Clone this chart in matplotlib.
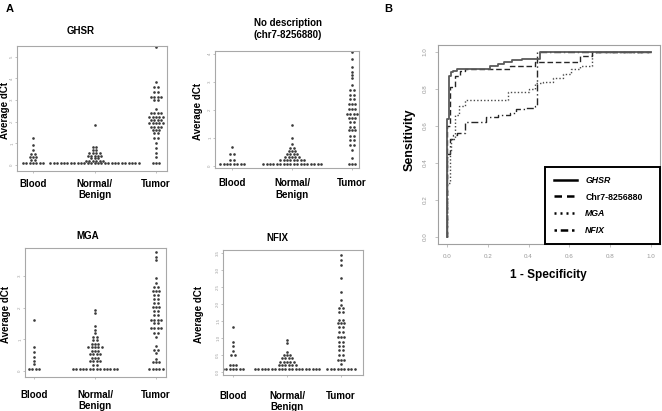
import numpy as np
import matplotlib
matplotlib.use('Agg')
import matplotlib.pyplot as plt
from matplotlib.lines import Line2D

W, H = 662, 411

plt.rcParams['font.family'] = ['Liberation Sans', 'DejaVu Sans']

GROUPS = ['Blood', 'Normal/\nBenign', 'Tumor']

# ---- panel A: average dCt, as (value, number of samples at that value) ----
ghsr_blood_vals = [0.1, 0.22, 0.35, 0.5, 0.7, 0.92, 1.23]
ghsr_blood_counts = [7, 2, 3, 2, 1, 1, 1]
ghsr_normal_vals = [0.1, 0.2, 0.3, 0.42, 0.55, 0.7, 0.85, 1.84]
ghsr_normal_counts = [27, 6, 3, 5, 4, 2, 2, 1]
ghsr_tumor_vals = [0.1, 0.35, 0.54, 0.77, 1.0, 1.23, 1.46, 1.61, 1.76, 1.92,
                   2.07, 2.23, 2.38, 2.6, 3.0, 3.15, 3.38, 3.6, 3.84, 5.45]
ghsr_tumor_counts = [3, 1, 1, 1, 1, 2, 2, 3, 4, 5,
                     4, 5, 4, 1, 2, 4, 2, 2, 1, 1]

chr7_blood_vals = [0.07, 0.19, 0.42, 0.67]
chr7_blood_counts = [8, 2, 2, 1]
chr7_normal_vals = [0.07, 0.19, 0.3, 0.42, 0.54, 0.65, 0.77, 1.0, 1.46]
chr7_normal_counts = [18, 8, 5, 4, 3, 2, 1, 1, 1]
chr7_tumor_vals = [0.07, 0.27, 0.56, 0.73, 0.91, 1.08, 1.26, 1.4, 1.55, 1.72,
                   1.86, 2.02, 2.19, 2.37, 2.54, 2.72, 2.89, 3.12, 3.24, 3.36,
                   3.53, 3.82, 4.05]
chr7_tumor_counts = [3, 1, 1, 2, 2, 2, 3, 2, 2, 3,
                     4, 3, 3, 2, 2, 2, 1, 1, 1, 1,
                     1, 1, 1]

mga_blood_vals = [0.07, 0.22, 0.32, 0.45, 0.61, 0.77, 1.61]
mga_blood_counts = [4, 1, 1, 1, 1, 1, 1]
mga_normal_vals = [0.06, 0.2, 0.32, 0.43, 0.54, 0.64, 0.77, 0.87, 0.98, 1.08,
                   1.21, 1.31, 1.42, 1.82, 1.92]
mga_normal_counts = [14, 2, 4, 3, 4, 3, 5, 3, 2, 2,
                     1, 1, 1, 1, 1]
mga_tumor_vals = [0.06, 0.29, 0.4, 0.56, 0.68, 0.79, 1.08, 1.21, 1.35, 1.5,
                  1.61, 1.77, 1.9, 2.03, 2.14, 2.26, 2.4, 2.53, 2.64, 2.77,
                  2.92, 3.48, 3.6, 3.73]
mga_tumor_counts = [5, 3, 1, 1, 2, 1, 1, 2, 4, 2,
                    4, 2, 2, 3, 2, 2, 2, 3, 2, 1,
                    1, 1, 1, 1]

nfix_blood_vals = [0.07, 0.18, 0.5, 0.62, 0.74, 0.88, 1.31]
nfix_blood_counts = [7, 3, 2, 1, 1, 1, 1]
nfix_normal_vals = [0.07, 0.18, 0.29, 0.39, 0.49, 0.59, 0.83, 0.93]
nfix_normal_counts = [20, 6, 5, 4, 3, 1, 1, 1]
nfix_tumor_vals = [0.07, 0.23, 0.34, 0.49, 0.64, 0.76, 0.88, 1.03, 1.18, 1.31,
                   1.42, 1.52, 1.76, 1.86, 1.96, 2.11, 2.35, 2.75, 3.14, 3.29,
                   3.43]
nfix_tumor_counts = [9, 1, 3, 2, 2, 2, 2, 3, 2, 2,
                     3, 2, 2, 2, 1, 1, 1, 1, 1, 1,
                     1]

# ---- panel B: ROC curves (false positive rate, true positive rate) ----
roc_labels = ['GHSR', 'Chr7-8256880', 'MGA', 'NFIX']
ghsr_fpr = [0, 0, 0.01, 0.02, 0.03, 0.05, 0.21, 0.25, 0.28, 0.32, 0.37, 0.456, 1.0]
ghsr_tpr = [0, 0.64, 0.87, 0.89, 0.90, 0.91, 0.925, 0.935, 0.945, 0.955, 0.965, 1.0, 1.0]
chr7_fpr = [0, 0, 0.015, 0.04, 0.064, 0.09, 0.31, 0.43, 0.65, 0.71, 1.0]
chr7_tpr = [0, 0.6, 0.81, 0.87, 0.895, 0.91, 0.926, 0.946, 0.98, 1.0, 1.0]
mga_fpr = [0, 0, 0.015, 0.02, 0.04, 0.06, 0.09, 0.30, 0.40, 0.43, 0.47, 0.52,
           0.57, 0.61, 0.65, 0.71, 1.0]
mga_tpr = [0, 0.29, 0.46, 0.53, 0.66, 0.71, 0.74, 0.785, 0.80, 0.83, 0.84, 0.86,
           0.88, 0.91, 0.925, 1.0, 1.0]
nfix_fpr = [0, 0, 0.015, 0.03, 0.05, 0.09, 0.19, 0.25, 0.31, 0.34, 0.38, 0.43,
            0.44, 1.0]
nfix_tpr = [0, 0.45, 0.53, 0.55, 0.56, 0.62, 0.65, 0.66, 0.67, 0.69, 0.70, 0.71,
            1.0, 1.0]


def px_rect(left, top, right, bottom):
    return [left / W, 1 - bottom / H, (right - left) / W, (bottom - top) / H]


def fig_xy(x, y):
    return x / W, 1 - y / H


def swarm(ax, xpos, vals, counts, step_px=3.4):
    x0, x1 = ax.get_xlim()
    dx = step_px * (x1 - x0) / (ax.get_position().width * W)
    xs, ys = [], []
    for v, n in zip(vals, counts):
        offs = (np.arange(n) - (n - 1) / 2) * dx
        xs.extend(xpos + offs)
        ys.extend([v] * n)
    ax.plot(xs, ys, 'o', ms=1.9, color='#3a3a3a', mec='none')


def dot_panel(fig, box, centers, ylim, yticks, yfmt, title, title_xy,
              ylabel_x, data, xpad):
    left, top, right, bottom = box
    ax = fig.add_axes(px_rect(left, top, right, bottom))
    c1, c3 = centers
    u = (c3 - c1) / 2
    ax.set_xlim(1 + (left - c1) / u, 1 + (right - c1) / u)
    ax.set_ylim(*ylim)
    for i, (vals, counts) in enumerate(data):
        swarm(ax, i + 1, vals, counts)
    ax.set_xticks([1, 2, 3])
    ax.set_xticklabels(GROUPS, fontsize=7, fontweight='bold', va='top',
                       linespacing=1.15)
    ax.set_yticks(yticks)
    ax.set_yticklabels([yfmt % t for t in yticks], rotation=90, va='center',
                       fontsize=3.2, color='#a0a0a0')
    ax.tick_params(axis='x', length=1.5, width=0.5, color='#aaaaaa', pad=xpad)
    ax.tick_params(axis='y', length=1.2, width=0.5, color='#aaaaaa', pad=0.8)
    for sp in ax.spines.values():
        sp.set_color('#a8a8a8')
        sp.set_linewidth(0.8)
    fig.text(*fig_xy(*title_xy), title, ha='center', va='center',
             fontsize=7, fontweight='bold', linespacing=1.2)
    fig.text(*fig_xy(ylabel_x, (top + bottom) / 2 + 2), 'Average dCt',
             rotation=90, ha='center', va='center', fontsize=7,
             fontweight='bold')
    return ax


def main():
    fig = plt.figure(figsize=(W / 100, H / 100), dpi=100)

    dot_panel(fig, (17, 46, 167, 171), (33, 156), (-0.28, 5.49),
              [0, 1, 2, 3, 4, 5], '%d', 'GHSR', (81, 31), 5,
              [(ghsr_blood_vals, ghsr_blood_counts),
               (ghsr_normal_vals, ghsr_normal_counts),
               (ghsr_tumor_vals, ghsr_tumor_counts)], 4)
    dot_panel(fig, (215, 51, 359, 168), (232, 352), (-0.08, 4.1),
              [0, 1, 2, 3, 4], '%d', 'No description\n(chr7-8256880)',
              (288, 29), 198,
              [(chr7_blood_vals, chr7_blood_counts),
               (chr7_normal_vals, chr7_normal_counts),
               (chr7_tumor_vals, chr7_tumor_counts)], 6)
    dot_panel(fig, (25, 248, 166, 377), (34, 156), (-0.18, 3.87),
              [0, 1, 2, 3], '%d', 'MGA', (88, 236), 6,
              [(mga_blood_vals, mga_blood_counts),
               (mga_normal_vals, mga_normal_counts),
               (mga_tumor_vals, mga_tumor_counts)], 8)
    dot_panel(fig, (223, 250, 363, 375), (233, 341), (-0.1, 3.58),
              [0, 0.5, 1, 1.5, 2, 2.5, 3, 3.5], '%.1f', 'NFIX', (277, 238), 199,
              [(nfix_blood_vals, nfix_blood_counts),
               (nfix_normal_vals, nfix_normal_counts),
               (nfix_tumor_vals, nfix_tumor_counts)], 10)

    # ROC panel
    ax = fig.add_axes(px_rect(438, 45, 660, 244))
    curves = [(ghsr_fpr, ghsr_tpr, '-', '#5a5a5a', 1.3),
              (chr7_fpr, chr7_tpr, (0, (4, 2)), '#262626', 1.0),
              (mga_fpr, mga_tpr, (0, (1, 1.5)), '#4a4a4a', 1.0),
              (nfix_fpr, nfix_tpr, (0, (5, 2, 1, 2)), '#262626', 1.0)]
    for fpr, tpr, ls, col, lw in curves[::-1]:
        ax.step(fpr, tpr, where='post', linestyle=ls, color=col, lw=lw)
    ax.set_xlim(-0.044, 1.044)
    ax.set_ylim(-0.038, 1.038)
    ticks = np.arange(0, 1.01, 0.2)
    ax.set_xticks(ticks)
    ax.set_xticklabels(['%.1f' % t for t in ticks], fontsize=4.5, color='#999999')
    ax.set_yticks(ticks)
    ax.set_yticklabels(['%.1f' % t for t in ticks], fontsize=4.5, color='#999999',
                       rotation=90, va='center')
    ax.tick_params(length=2.5, width=0.5, color='#aaaaaa', pad=5)
    for sp in ax.spines.values():
        sp.set_color('#a0a0a0')
        sp.set_linewidth(0.8)

    handles = [Line2D([], [], color='black', lw=1.8, linestyle=ls)
               for ls in ['-', (0, (3, 2)), (0, (0.8, 1.6)), (0, (1, 1.5, 3, 1.5))]]
    leg = ax.legend(handles, roc_labels, loc='lower left',
                    bbox_to_anchor=(0.482, 0.0, 0.518, 0.39), mode='expand',
                    borderaxespad=0, fontsize=6.3, handlelength=2.6,
                    handletextpad=1.0, labelspacing=0.9, borderpad=1.0,
                    fancybox=False, framealpha=1)
    leg.get_frame().set_edgecolor('black')
    leg.get_frame().set_linewidth(1.4)
    for txt in leg.get_texts():
        txt.set_fontweight('bold')
        if txt.get_text() != 'Chr7-8256880':
            txt.set_fontstyle('italic')

    fig.text(*fig_xy(410, 140), 'Sensitivity', rotation=90, ha='center',
             va='center', fontsize=9, fontweight='bold')
    fig.text(*fig_xy(548, 275), '1 - Specificity', ha='center', va='center',
             fontsize=8.5, fontweight='bold')
    fig.text(*fig_xy(10, 9), 'A', ha='center', va='center', fontsize=8,
             fontweight='bold')
    fig.text(*fig_xy(388, 9), 'B', ha='center', va='center', fontsize=8,
             fontweight='bold')

    fig.savefig('out.png', dpi=100, facecolor='white')


if __name__ == '__main__':
    main()
